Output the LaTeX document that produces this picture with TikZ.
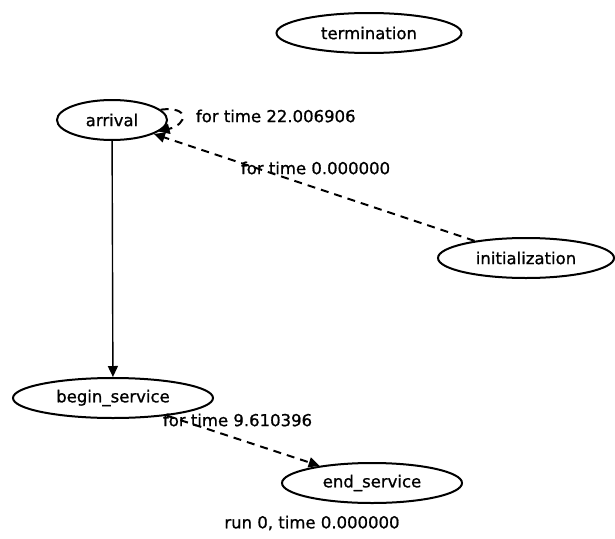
\documentclass[tikz,border=0pt]{standalone}
\usepackage{fontspec}
\setmainfont[FakeBold=1]{DejaVu Sans}
\usetikzlibrary{shapes.geometric,arrows.meta}

\tikzset{
  event/.style={draw, ellipse, line width=2pt, minimum width=#1, minimum height=40pt, inner sep=0pt, font=\fontsize{16.5}{18}\selectfont},
  sched/.style={dashed, dash pattern=on 8pt off 6pt, line width=2pt, -{Triangle[length=11pt,width=10pt]}},
  flow/.style={line width=1.4pt, -{Triangle[length=11pt,width=10pt]}},
  lbl/.style={inner sep=0.75pt, font=\fontsize{16.5}{18}\selectfont}
}

\begin{document}
\begin{tikzpicture}[x=1pt,y=1pt,yscale=-1,xscale=1]
        \useasboundingbox (0,0) rectangle (615,538);

        %Shape: Ellipse [id:termination]
        \node [event=185pt] (termination) at (369,33) {termination};
        %Shape: Ellipse [id:arrival]
        \node [event=110pt] (arrival) at (112,120) {arrival};
        %Shape: Ellipse [id:initialization]
        \node [event=176pt] (initialization) at (526,258) {initialization};
        %Shape: Ellipse [id:begin_service]
        \node [event=200pt] (begin_service) at (113,398) {begin\_service};
        %Shape: Ellipse [id:end_service]
        \node [event=180pt] (end_service) at (372,483) {end\_service};

        %Straight Lines
        \draw [flow] (arrival) -- (begin_service);
        \draw [sched] (initialization) -- (arrival);
        \draw [sched] (arrival.12) .. controls (190,106) and (188,124) .. (arrival.-14);
        \draw [sched] (begin_service) -- (end_service);

        % Text Node
        \draw (195,116) node [anchor=west][lbl]    {for time 22.006906};
        % Text Node
        \draw (240,168) node [anchor=west][lbl]    {for time 0.000000};
        % Text Node
        \draw (162,420) node [anchor=west][lbl]    {for time 9.610396};
        % Text Node
        \draw (312,523) node [lbl]    {run 0, time 0.000000};

\end{tikzpicture}
\end{document}
